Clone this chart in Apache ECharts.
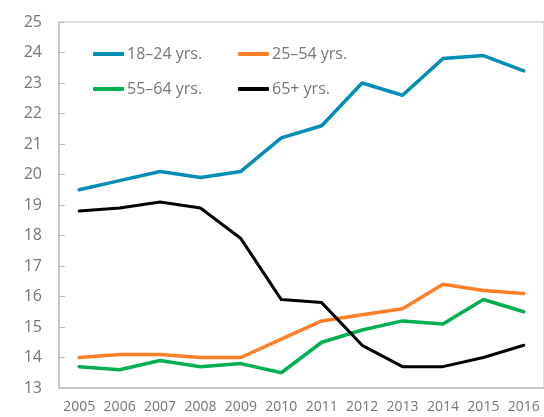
<!DOCTYPE html>
<html>
<head>
<meta charset="utf-8">
<script src="https://cdn.jsdelivr.net/npm/echarts@6/dist/echarts.min.js"></script>
<style>
  html, body { margin: 0; padding: 0; background: #fff; }
  #chart_container { width: 544px; height: 417px; }
</style>
</head>
<body>
<div id="chart_container"></div>
<script>

const years = ['2005', '2006', '2007', '2008', '2009', '2010', '2011', '2012', '2013', '2014', '2015', '2016'];

const age_18_24 = [19.5, 19.8, 20.1, 19.9, 20.1, 21.2, 21.6, 23.0, 22.6, 23.8, 23.9, 23.4];
const age_25_54 = [14.0, 14.1, 14.1, 14.0, 14.0, 14.6, 15.2, 15.4, 15.6, 16.4, 16.2, 16.1];
const age_55_64 = [13.7, 13.6, 13.9, 13.7, 13.8, 13.5, 14.5, 14.9, 15.2, 15.1, 15.9, 15.5];
const age_65_up = [18.8, 18.9, 19.1, 18.9, 17.9, 15.9, 15.8, 14.4, 13.7, 13.7, 14.0, 14.4];

const names = ['18–24 yrs.', '25–54 yrs.', '55–64 yrs.', '65+ yrs.'];
const colors = ['#008eb5', '#ff7f27', '#00b050', '#000000'];

window.addEventListener("load", (event) => {
  let chart = echarts.init(document.getElementById("chart_container"), null, {
    renderer: 'canvas'
  });

  const fontFamily = '"Open Sans", sans-serif';
  const axisGray = '#bfbfbf';
  const textGray = '#767676';

  // one legend per item so each can sit where the original has it
  const legendPos = [[88, 41], [233, 41], [88, 76], [233, 76]];
  let legends = names.map((n, i) => ({
    data: [n],
    left: legendPos[i][0],
    top: legendPos[i][1],
    icon: 'roundRect',
    itemWidth: 31,
    itemHeight: 4,
    itemGap: 4,
    textStyle: { color: textGray, fontSize: 16, fontFamily: fontFamily, padding: [0, 0, 0, -2] }
  }));

  let series = [age_18_24, age_25_54, age_55_64, age_65_up].map((d, i) => ({
    name: names[i],
    type: 'line',
    data: d,
    symbol: 'none',
    lineStyle: { width: i === 3 ? 3 : 3.5, color: colors[i], cap: 'round', join: 'round' },
    itemStyle: { color: colors[i] },
    z: i === 3 ? 3 : 2
  }));

  let option = {
    backgroundColor: '#fff',
    animation: false,
    legend: legends,
    grid: {
      left: 59,
      right: -2,
      top: 22,
      bottom: 29,
      show: true,
      borderColor: axisGray,
      borderWidth: 1,
      containLabel: false
    },
    xAxis: {
      type: 'category',
      data: years,
      boundaryGap: true,
      axisLine: { lineStyle: { color: axisGray, width: 1.5 } },
      axisTick: { inside: true, length: 6, lineStyle: { color: axisGray } },
      axisLabel: { color: textGray, fontSize: 14, fontFamily: fontFamily, margin: 12, interval: 0, hideOverlap: false }
    },
    yAxis: {
      type: 'value',
      min: 13,
      max: 25,
      interval: 1,
      axisLine: { show: true, lineStyle: { color: axisGray, width: 1.5 } },
      axisTick: { show: true, inside: true, length: 6, lineStyle: { color: axisGray } },
      splitLine: { show: false },
      axisLabel: { color: textGray, fontSize: 16, fontFamily: fontFamily, margin: 17 }
    },
    series: series
  };

  chart.setOption(option);

  window.addEventListener('resize', chart.resize);
});

</script>
</body>
</html>
